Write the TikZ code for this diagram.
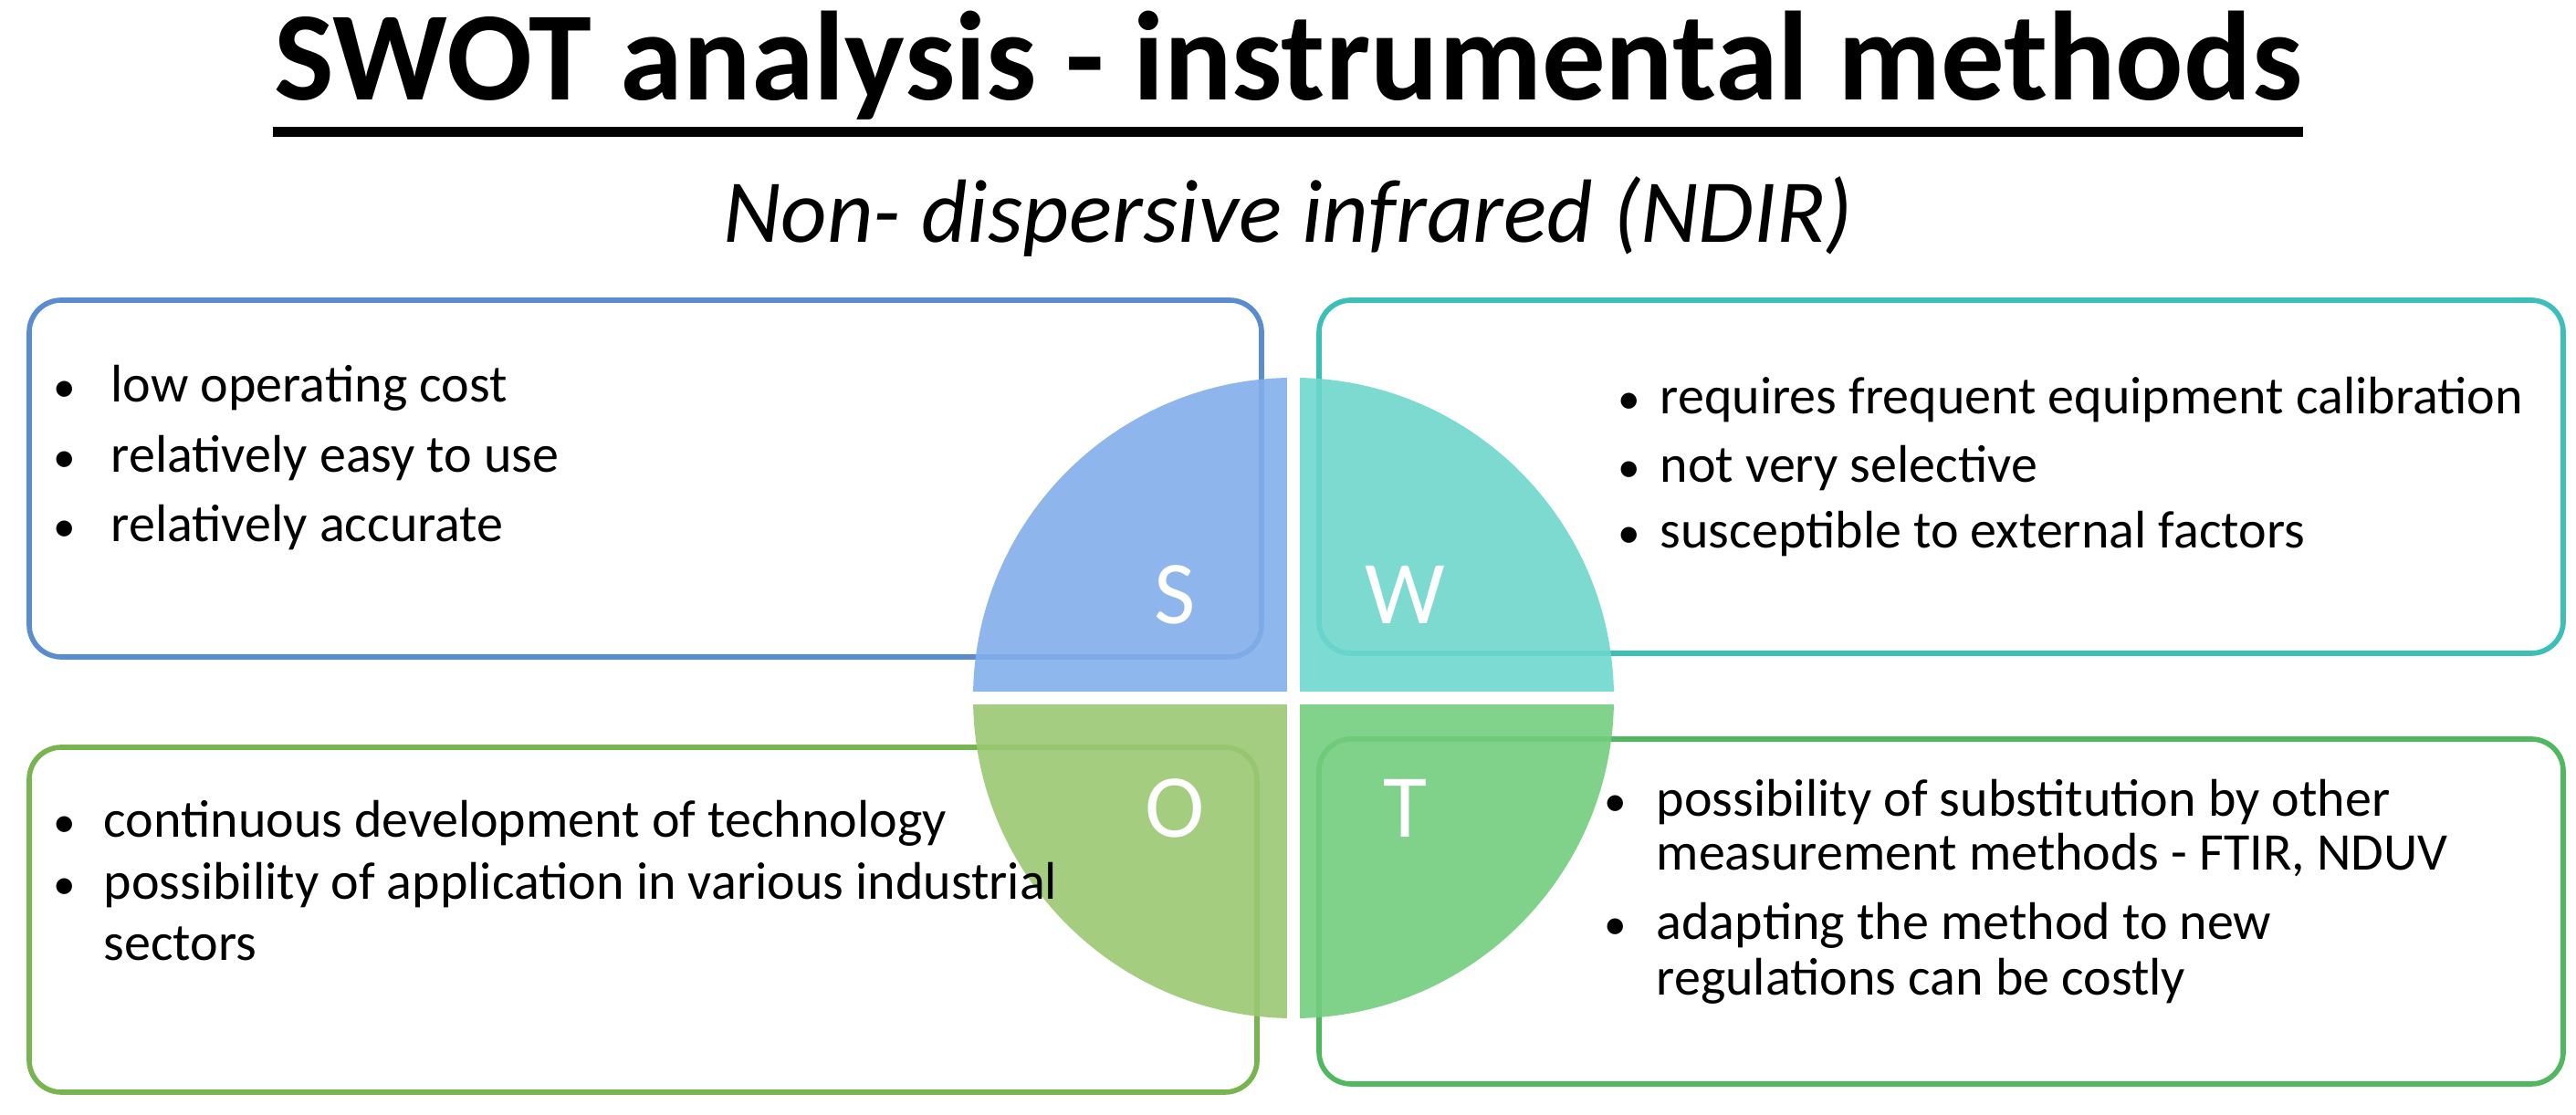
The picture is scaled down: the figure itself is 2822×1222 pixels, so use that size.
\documentclass[tikz,border=0pt]{standalone}
\usepackage{fontspec}
\setmainfont{Carlito}
\begin{document}
\begin{tikzpicture}[x=0.01cm,y=0.01cm,
  box/.style={draw=#1,line width=1.6pt,rounded corners=0.35cm,fill=white},
  txt/.style={anchor=base west,font=\fontsize{16.5}{18}\selectfont,inner sep=0},
  bul/.style={anchor=base west,font=\fontsize{14}{18}\selectfont,inner sep=0},
  let/.style={text=white,font=\fontsize{28}{30}\selectfont}]
\definecolor{sb}{RGB}{90,140,210}\definecolor{wb}{RGB}{60,190,185}
\definecolor{ob}{RGB}{120,180,80}\definecolor{tb}{RGB}{80,185,95}
\definecolor{sf}{RGB}{130,175,235}\definecolor{wf}{RGB}{110,215,205}
\definecolor{of}{RGB}{155,200,115}\definecolor{tf}{RGB}{115,205,125}
\useasboundingbox (0,0) rectangle (2822,1222);
\node[font=\bfseries\fontsize{39.5}{42}\selectfont,inner sep=0] (title) at (1411,1150) {SWOT analysis - instrumental methods};
\draw[line width=3pt] ([yshift=-0.12cm]title.south west) -- ([yshift=-0.12cm]title.south east);
\node[font=\itshape\fontsize{28}{30}\selectfont] (sub) at (1411,985) {Non- dispersive infrared (NDIR)};
\draw[box=sb] (32,893) rectangle (1382,502);
\draw[box=wb] (1445,893) rectangle (2808,506);
\draw[box=ob] (32,403) rectangle (1377,25);
\draw[box=tb] (1445,412) rectangle (2808,34);
\begin{scope}
\clip (1417,457) circle (351);
\fill[sf,opacity=0.9] (1410,464) rectangle (1000,900);
\fill[wf,opacity=0.9] (1424,464) rectangle (1800,900);
\fill[of,opacity=0.9] (1410,450) rectangle (1000,0);
\fill[tf,opacity=0.9] (1424,450) rectangle (1800,0);
\fill[white,opacity=0.45] (1410,0) rectangle (1424,900);
\fill[white,opacity=0.45] (1000,450) rectangle (1800,464);
\end{scope}
\node[let] (S) at (1287,570) {S};
\node[let] (W) at (1539,570) {W};
\node[let] (O) at (1287,336) {O};
\node[let] (T) at (1539,336) {T};
\foreach \y/\t [count=\i] in {781/low operating cost,704/relatively easy to use,628/relatively accurate}{
  \node[bul] (sb\i) at (58,\y) {\textbullet}; \node[txt] (s\i) at (121,\y) {\t};}
\foreach \y/\t [count=\i] in {768/requires frequent equipment calibration,693/not very selective,621/susceptible to external factors}{
  \node[bul] (wb\i) at (1772,\y) {\textbullet}; \node[txt] (w\i) at (1818,\y) {\t};}
\foreach \y/\t [count=\i] in {304/continuous development of technology,236/possibility of application in various industrial}{
  \node[bul] (ob\i) at (58,\y) {\textbullet}; \node[txt] (o\i) at (113,\y) {\t};}
\node[txt] (o3) at (113,169) {sectors};
\node[bul] (tb1) at (1757,327) {\textbullet};
\node[txt] (t1) at (1814,327) {possibility of substitution by other};
\node[txt] (t2) at (1814,268) {measurement methods - FTIR, NDUV};
\node[bul] (tb2) at (1757,192) {\textbullet};
\node[txt] (t3) at (1814,192) {adapting the method to new};
\node[txt] (t4) at (1814,131) {regulations can be costly};
\end{tikzpicture}
\end{document}
